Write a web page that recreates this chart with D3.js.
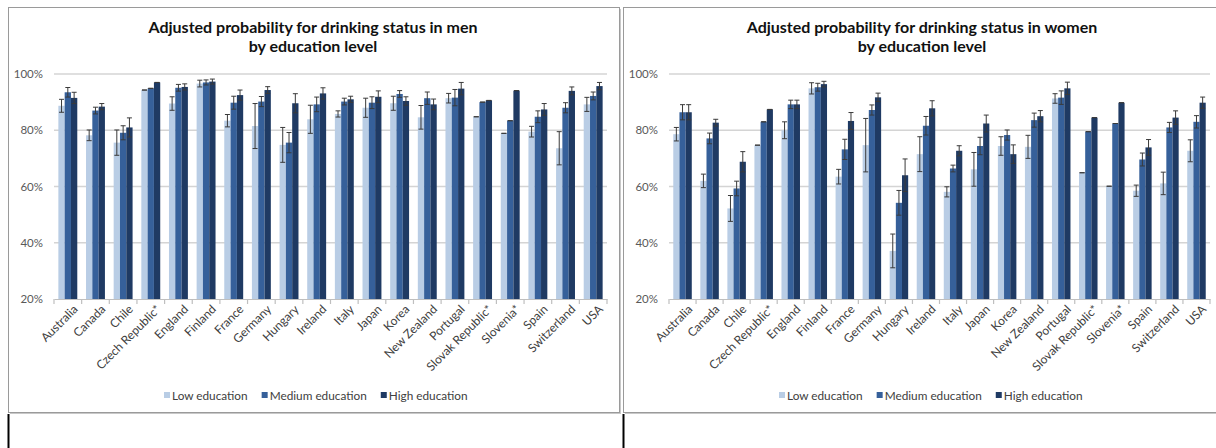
<!DOCTYPE html>
<html><head><meta charset="utf-8">
<script src="https://cdn.jsdelivr.net/npm/d3@7"></script>
<style>body{margin:0;background:#fff}svg{display:block}text{font-family:Lato,"Open Sans",sans-serif}</style>
</head><body><svg id="c" width="1216" height="448"></svg>
<script>
const categories = ["Australia","Canada","Chile","Czech Republic*","England","Finland","France","Germany","Hungary","Ireland","Italy","Japan","Korea","New Zealand","Portugal","Slovak Republic*","Slovenia*","Spain","Switzerland","USA"];
const seriesNames = ["Low education","Medium education","High education"];
const yTicks = [20,40,60,80,100];

const menLow      = [88.7,78.2,75.6,94.3,89.5,96.6,83.4,81.5,74.8,83.9,85.8,88.0,89.6,84.6,91.4,84.8,78.9,79.5,73.6,89.2];
const menLowErr   = [2.3,1.9,4.5,0,2.4,1.2,2.2,8.0,6.2,5.0,1.1,3.4,2.5,4.2,1.7,0,0,1.9,5.9,2.5];
const menMedium   = [93.5,87.0,79.1,94.9,95.1,97.0,89.8,90.2,75.6,89.2,90.2,89.8,92.9,91.4,91.6,90.0,83.4,84.8,88.0,92.2];
const menMediumErr= [1.7,1.2,2.5,0,1.2,0.9,2.3,1.8,3.6,2.6,1.2,2.1,1.2,2.2,2.9,0,0,2.1,1.8,1.4];
const menHigh     = [91.5,88.4,81.0,97.0,95.4,97.3,92.5,94.3,89.6,93.1,91.0,91.9,90.4,89.2,94.8,90.6,94.1,87.4,94.0,95.7];
const menHighErr  = [2.0,1.1,3.4,0,1.1,0.9,1.8,1.2,3.4,2.0,1.1,2.1,1.5,1.9,2.2,0,0,2.1,1.4,1.3];

const womenLow      = [78.6,62.0,52.2,74.7,80.0,94.9,63.5,74.7,37.1,71.5,58.1,66.1,74.4,74.1,91.3,64.9,60.1,58.5,61.1,72.7];
const womenLowErr   = [2.4,2.4,4.6,0,3.0,2.0,2.6,9.5,6.0,6.2,1.8,6.0,3.3,4.1,1.7,0,0,2.0,4.0,3.9];
const womenMedium   = [86.4,77.1,59.3,83.0,89.2,95.3,73.2,87.2,54.2,81.6,66.4,74.4,78.3,83.6,91.6,79.5,82.4,69.6,81.0,83.0];
const womenMediumErr= [2.7,1.9,2.6,0,1.5,1.4,3.6,1.8,4.4,3.3,1.2,3.1,1.8,2.5,2.4,0,0,2.3,1.8,2.2];
const womenHigh     = [86.4,82.7,68.8,87.4,89.2,96.4,83.3,91.7,64.0,87.8,72.7,82.4,71.5,85.0,94.9,84.5,89.8,73.9,84.5,89.8];
const womenHighErr  = [2.7,1.2,3.6,0,1.5,1.0,3.0,1.5,5.8,2.7,1.8,3.0,3.3,2.0,2.2,0,0,2.8,2.4,2.0];

const colors = ["#B9CDE5","#36609A","#1F3A63"];
const svg = d3.select("#c");

// frames
function frame(x,y,w,h){
  svg.append("rect").attr("x",x+1.5).attr("y",y+1.5).attr("width",w).attr("height",h).attr("fill","#c8c8c8");
  svg.append("rect").attr("x",x).attr("y",y).attr("width",w).attr("height",h).attr("fill","#fff").attr("stroke","#9a9a9a").attr("stroke-width",1);
}
frame(8.5,7.5,611,405);
frame(623.5,7.5,600,405);
svg.append("line").attr("x1",8.5).attr("x2",8.5).attr("y1",414).attr("y2",448).attr("stroke","#000").attr("stroke-width",2);
svg.append("line").attr("x1",623.5).attr("x2",623.5).attr("y1",414).attr("y2",448).attr("stroke","#000").attr("stroke-width",2);

function drawChart(opt){
  const g = svg.append("g");
  const x = d3.scaleBand().domain(categories).range([opt.left,opt.right]);
  const y = d3.scaleLinear().domain([20,100]).range([299,74]);
  const inner = d3.scaleBand().domain([0,1,2]).range([x.bandwidth()*0.158, x.bandwidth()*0.842]);

  // title
  const t = g.append("text").attr("x",opt.titleX).attr("y",33).attr("text-anchor","middle")
    .attr("font-size",16).attr("font-weight","bold").attr("fill","#111");
  t.append("tspan").attr("x",opt.titleX).text(opt.title1);
  t.append("tspan").attr("x",opt.titleX).attr("dy",19).text("by education level");

  // gridlines
  g.selectAll(".grid").data(yTicks.filter(d=>d>20)).join("line")
    .attr("x1",opt.left).attr("x2",opt.right).attr("y1",d=>y(d)).attr("y2",d=>y(d))
    .attr("stroke","#d4d4d4").attr("stroke-width",1.5);

  // y axis labels
  const ya = g.append("g").attr("transform",`translate(${opt.left},0)`)
    .call(d3.axisLeft(y).tickValues(yTicks).tickFormat(d=>d+"%").tickSize(0).tickPadding(11));
  ya.select(".domain").remove();
  ya.selectAll("text").attr("font-size",11.5).attr("fill","#595959").attr("font-family","Lato,sans-serif");

  // bars
  opt.series.forEach((s,si)=>{
    g.append("g").selectAll("rect").data(categories).join("rect")
      .attr("x",(c)=>x(c)+inner(si)).attr("width",inner.bandwidth())
      .attr("y",(c,i)=>y(s.v[i])).attr("height",(c,i)=>y(20)-y(s.v[i]))
      .attr("fill",colors[si]);
  });
  // error bars
  opt.series.forEach((s,si)=>{
    const eg = g.append("g").attr("stroke","#3a3a3a").attr("stroke-width",1);
    categories.forEach((c,i)=>{
      const cx = x(c)+inner(si)+inner.bandwidth()/2;
      const lo = y(s.v[i]-s.e[i]), hi = y(s.v[i]+s.e[i]);
      if (s.e[i]>0) eg.append("line").attr("x1",cx).attr("x2",cx).attr("y1",lo).attr("y2",hi);
      eg.append("line").attr("x1",cx-2.5).attr("x2",cx+2.5).attr("y1",hi).attr("y2",hi);
      eg.append("line").attr("x1",cx-2.5).attr("x2",cx+2.5).attr("y1",lo).attr("y2",lo);
    });
  });

  // x axis
  const xa = g.append("g").attr("transform","translate(0,299)")
    .call(d3.axisBottom(x).tickSize(0).tickPadding(6));
  xa.select(".domain").attr("stroke","#bfbfbf").attr("stroke-width",1.2);
  xa.selectAll("text").attr("font-size",12).attr("fill","#404040").attr("font-family","Lato,sans-serif")
    .attr("text-anchor","end").attr("transform","translate(3,0) rotate(-45)").attr("dy","0.6em").attr("dx","-0.2em");
  // boundary ticks
  const bounds = categories.map(c=>x(c)).concat([x(categories[categories.length-1])+x.bandwidth()]);
  g.selectAll(".bt").data(bounds).join("line").attr("x1",d=>d).attr("x2",d=>d).attr("y1",299).attr("y2",304)
    .attr("stroke","#bfbfbf").attr("stroke-width",1.2);

  // legend
  const lg = g.append("g");
  let lx = opt.legendX;
  seriesNames.forEach((n,i)=>{
    lg.append("rect").attr("x",lx).attr("y",392).attr("width",6).attr("height",6).attr("fill",colors[i]);
    const tx = lg.append("text").attr("x",lx+8).attr("y",399.5).attr("font-size",11.8).attr("fill","#404040").text(n);
    lx += tx.node().getComputedTextLength() + 22;
  });
}

drawChart({left:54,right:607,titleX:313,title1:"Adjusted probability for drinking status in men",legendX:164,
  series:[{v:menLow,e:menLowErr},{v:menMedium,e:menMediumErr},{v:menHigh,e:menHighErr}]});
drawChart({left:669,right:1210,titleX:922,title1:"Adjusted probability for drinking status in women",legendX:779,
  series:[{v:womenLow,e:womenLowErr},{v:womenMedium,e:womenMediumErr},{v:womenHigh,e:womenHighErr}]});
</script></body></html>
